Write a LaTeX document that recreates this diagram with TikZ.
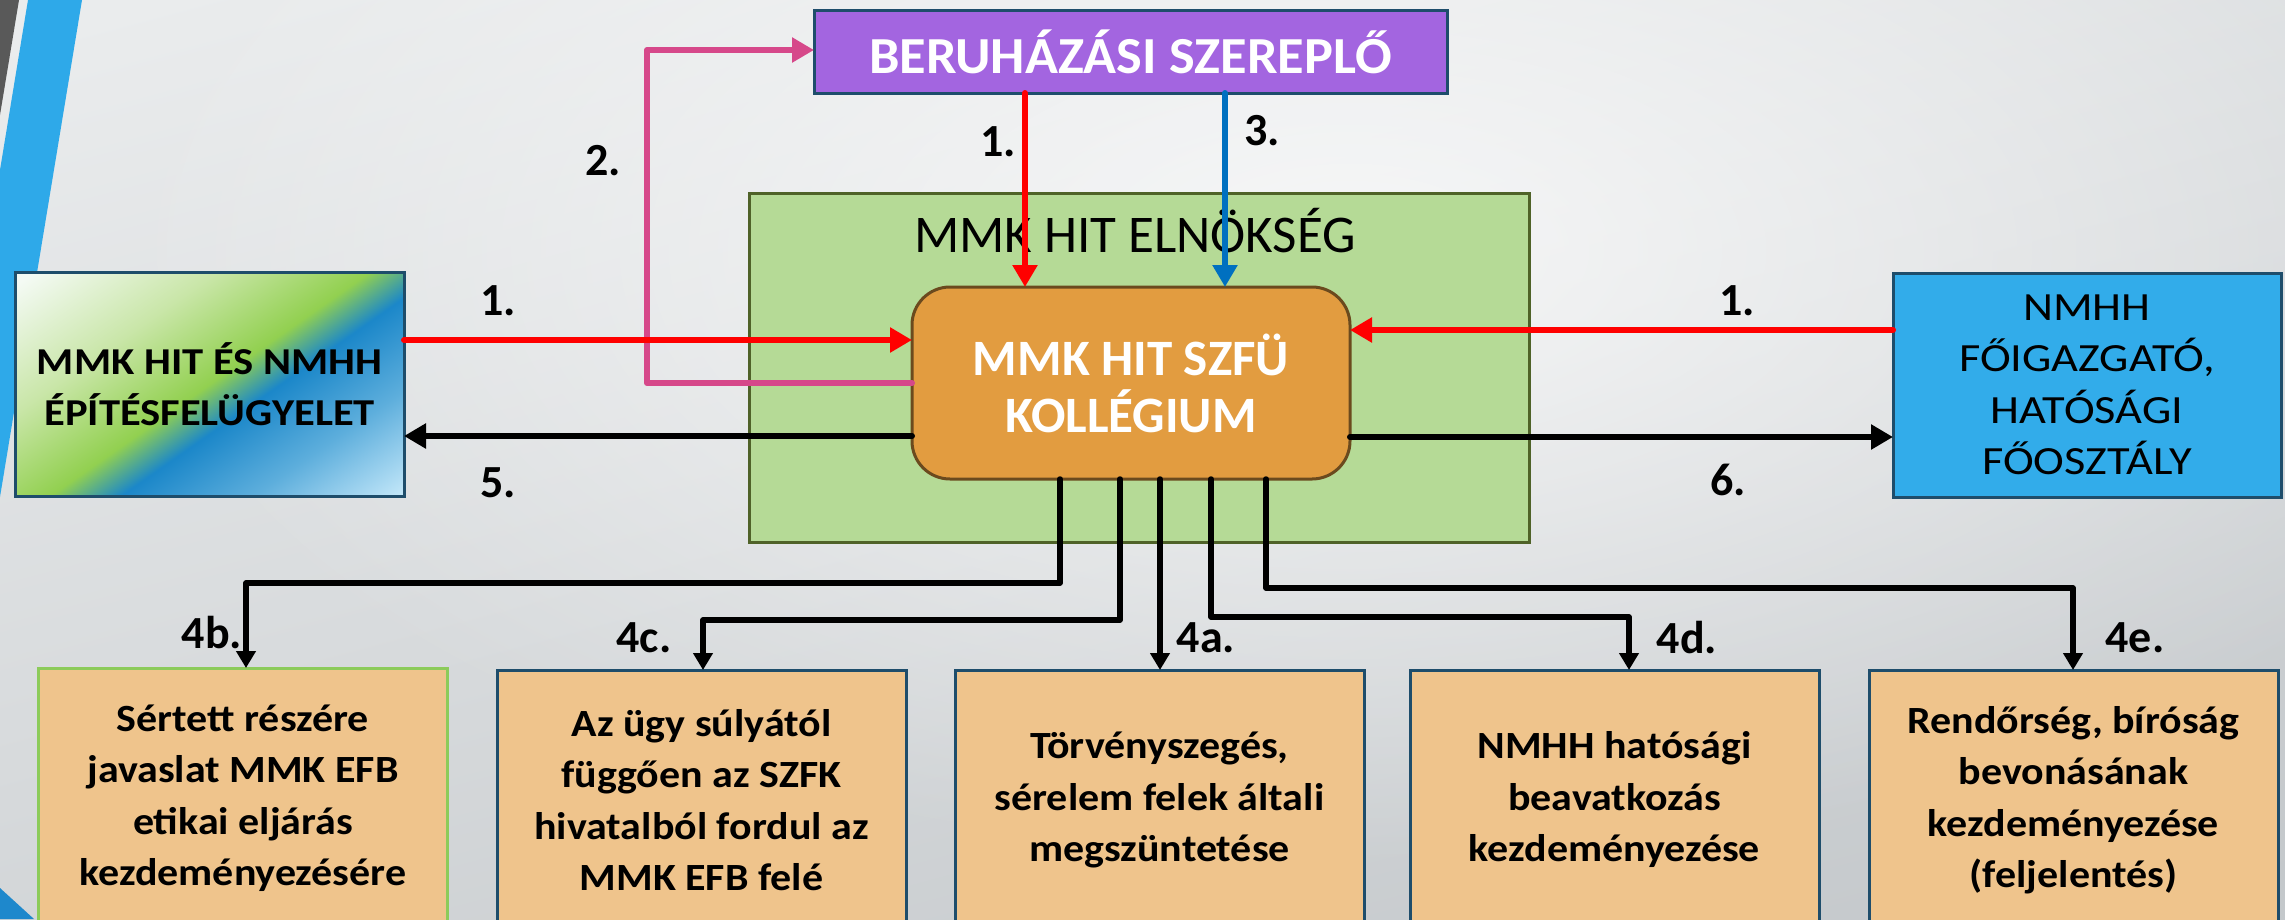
\documentclass[tikz,border=0pt]{standalone}
\usepackage{fontspec}
\setmainfont{Carlito}
\newfontfamily\leftfont{Carlito}[FakeStretch=1.12]
\newfontfamily\bottomfont{Carlito}[FakeStretch=1.09]
\newfontfamily\nmfont{Carlito}[FakeStretch=1.16]
\newfontfamily\berufont{Carlito}[FakeStretch=1.045]
\usetikzlibrary{arrows.meta,fadings}
\definecolor{bgtop}{HTML}{EAECED}
\definecolor{bgbot}{HTML}{C4C8CB}
\definecolor{stripegray}{HTML}{595959}
\definecolor{stripeblue}{HTML}{2EA9E9}
\definecolor{stripedark}{HTML}{1E88CC}
\definecolor{purplebox}{HTML}{A365E0}
\definecolor{darkedge}{HTML}{1E4D6B}
\definecolor{greenbox}{HTML}{B5DA96}
\definecolor{greenedge}{HTML}{4F6228}
\definecolor{orangebox}{HTML}{E29C40}
\definecolor{orangeedge}{HTML}{6B4A1E}
\definecolor{bluebox}{HTML}{32ACEA}
\definecolor{tanbox}{HTML}{EFC48C}
\definecolor{limeedge}{HTML}{8CCB5A}
\definecolor{pinkline}{HTML}{D6488A}
\definecolor{redline}{HTML}{FF0000}
\definecolor{blueline}{HTML}{0070C0}
\definecolor{lgW}{HTML}{F4FAF4}
\definecolor{lgLG}{HTML}{C9E6A8}
\definecolor{lgG}{HTML}{92D050}
\definecolor{lgB}{HTML}{1B87C9}
\definecolor{lgMB}{HTML}{5DAEDC}
\definecolor{lgLB}{HTML}{BFE5F8}
\pgfdeclarehorizontalshading{lbgrad}{100bp}{color(0bp)=(lgW); color(17bp)=(lgW); color(35bp)=(lgLG); color(50bp)=(lgG); color(57bp)=(lgB); color(70bp)=(lgMB); color(84bp)=(lgLB); color(100bp)=(lgLB)}
\tikzfading[name=softglow, inner color=transparent!0, outer color=transparent!100]
\begin{document}
\begin{tikzpicture}[x=1pt,y=-1pt,
  boxbase/.style={rectangle,inner sep=0pt,outer sep=0pt,line width=3pt,align=center},
  tanstyle/.style={boxbase,fill=tanbox,draw=darkedge,minimum width=409pt,minimum height=260pt,anchor=north,
    font=\bottomfont\bfseries\fontsize{38.5}{51.5}\selectfont},
  numlab/.style={anchor=base,inner sep=0pt,font=\bfseries\fontsize{46}{50}\selectfont},
  conn/.style={line width=6pt,line cap=round,line join=round},
  thinconn/.style={line width=5.5pt,line cap=round,line join=round,-{Triangle[length=17pt,width=19pt]}},
  bigtip/.style={-{Triangle[length=22pt,width=24pt]}}
]
\useasboundingbox (0,0) rectangle (2285,919);
\clip (0,0) rectangle (2285,919);
% background
\shade[top color=bgtop,bottom color=bgbot,shading angle=15] (-100,-100) rectangle (2385,1019);
\fill[white,opacity=0.75,path fading=softglow] (1350,250) ellipse [x radius=1250pt,y radius=620pt];
\fill[stripegray] (0,0) -- (19,0) -- (0,115) -- cycle;
\fill[stripeblue] (28,0) -- (82,0) -- (0,497) -- (0,170) -- cycle;
\fill[stripedark] (0,888) -- (34,919) -- (0,919) -- cycle;

% nodes
\node[boxbase,fill=greenbox,draw=greenedge,minimum width=780pt,minimum height=349pt] (elnok) at (1139,367.5) {};
\node[anchor=base,inner sep=0pt,font=\fontsize{53}{57}\selectfont] (elnoktitle) at (1135,252) {MMK HIT ELNÖKSÉG};
\node[boxbase,fill=purplebox,draw=darkedge,text=white,minimum width=633pt,minimum height=83pt,
  font=\berufont\bfseries\fontsize{52}{57}\selectfont] (beru) at (1130.5,51.5) {BERUHÁZÁSI SZEREPLŐ};
\node[boxbase,fill=orangebox,draw=orangeedge,rounded corners=38pt,text=white,minimum width=438pt,minimum height=192pt,
  font=\bfseries\fontsize{51}{57}\selectfont] (kol) at (1131,383) {MMK HIT SZFÜ\\KOLLÉGIUM};
\node[boxbase,shading=lbgrad,shading angle=-55,draw=darkedge,minimum width=389pt,minimum height=224pt,
  font=\leftfont\bfseries\fontsize{38}{50.5}\selectfont] (lb) at (209.5,384) {MMK HIT ÉS NMHH\\ÉPÍTÉSFELÜGYELET};
\node[boxbase,fill=bluebox,draw=darkedge,minimum width=388pt,minimum height=224pt,
  font=\nmfont\fontsize{40}{51.5}\selectfont] (nmhh) at (2087,385) {NMHH\\FŐIGAZGATÓ,\\HATÓSÁGI\\FŐOSZTÁLY};

\node[tanstyle,draw=limeedge] (bb) at (243,668) {Sértett részére\\javaslat MMK EFB\\etikai eljárás\\kezdeményezésére};
\node[tanstyle] (bc) at (701.5,670) {Az ügy súlyától\\függően az SZFK\\hivatalból fordul az\\MMK EFB felé};
\node[tanstyle] (ba) at (1159.5,670) {Törvényszegés,\\sérelem felek általi\\megszüntetése};
\node[tanstyle] (bd) at (1614.5,670) {NMHH hatósági\\beavatkozás\\kezdeményezése};
\node[tanstyle] (be) at (2073.5,670) {Rendőrség, bíróság\\bevonásának\\kezdeményezése\\(feljelentés)};

% connectors
\coordinate (pk1) at (647,383);
\coordinate (pk2) at (647,50);
\draw[conn,pinkline,bigtip] (kol.west |- pk1) -- (pk1) -- (pk2) -- (beru.west |- pk2);
\draw[conn,redline,bigtip] (lb.east |- 0,340) -- (kol.west |- 0,340);
\draw[conn,black,bigtip] (kol.west |- 0,436) -- (lb.east |- 0,436);
\draw[conn,redline,bigtip] (beru.south -| 1025,0) -- (kol.north -| 1025,0);
\draw[conn,blueline,bigtip] (beru.south -| 1225,0) -- (kol.north -| 1225,0);
\draw[conn,redline,bigtip] (nmhh.west |- 0,330) -- (kol.east |- 0,330);
\draw[conn,black,bigtip] (kol.east |- 0,437) -- (nmhh.west |- 0,437);

\draw[thinconn] (kol.south -| 1060,0) -- (1060,583) -- (246,583) -- (bb.north -| 246,0);
\draw[thinconn] (kol.south -| 1120,0) -- (1120,620) -- (703,620) -- (bc.north -| 703,0);
\draw[thinconn] (kol.south -| 1160,0) -- (ba.north -| 1160,0);
\draw[thinconn] (kol.south -| 1211,0) -- (1211,617) -- (1629,617) -- (bd.north -| 1629,0);
\draw[thinconn] (kol.south -| 1266,0) -- (1266,588) -- (2073,588) -- (be.north -| 2073,0);

% labels
\node[numlab] (l2) at (603,175) {2.};
\node[numlab] (l1t) at (998,156) {1.};
\node[numlab] (l3) at (1262,145) {3.};
\node[numlab] (l1l) at (498,315) {1.};
\node[numlab] (l5) at (498,497) {5.};
\node[numlab] (l1r) at (1737,315) {1.};
\node[numlab] (l6) at (1728,495) {6.};
\node[numlab] (l4b) at (212,648) {4b.};
\node[numlab] (l4c) at (644,652) {4c.};
\node[numlab] (l4a) at (1206,652) {4a.};
\node[numlab] (l4d) at (1687,653) {4d.};
\node[numlab] (l4e) at (2135,652) {4e.};
\end{tikzpicture}
\end{document}
